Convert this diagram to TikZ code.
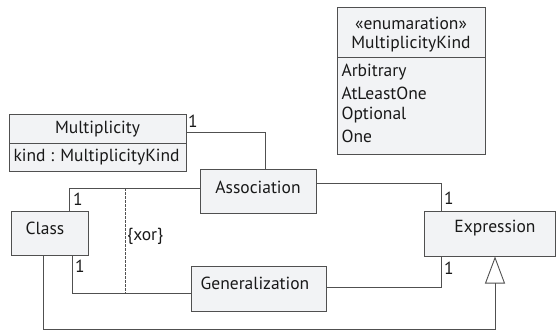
\documentclass[tikz,border=0pt]{standalone}
\usepackage{fontspec}
\setmainfont{PT Sans}
\usetikzlibrary{arrows.meta}
\definecolor{boxfill}{HTML}{F2F3F5}
\definecolor{ink}{HTML}{505050}
\begin{document}
\begin{tikzpicture}[x=1pt,y=-1pt,
  every node/.style={font=\fontsize{17.5}{21}\selectfont, text=black!90},
  umlbox/.style={draw=ink, fill=boxfill, line width=1pt, inner sep=0pt, minimum width=#1},
  conn/.style={draw=ink, line width=0.9pt},
  mult/.style={inner sep=0pt, anchor=center},
  gen/.style={conn, -{Triangle[open, length=27pt, width=20pt, line width=0.9pt]}}]
\useasboundingbox (0,0) rectangle (556,333);

% enumeration box
\draw[draw=ink, fill=boxfill, line width=1pt] (337,7) rectangle (485,154);
\draw[draw=ink, line width=1pt] (337,57) -- (485,57);
\node (enumster) at (411,23) {«enumaration»};
\node (enumname) at (411,44) {MultiplicityKind};
\node[anchor=west] (lit1) at (338,72) {Arbitrary};
\node[anchor=west] (lit2) at (338,93) {AtLeastOne};
\node[anchor=west] (lit3) at (338,115) {Optional};
\node[anchor=west] (lit4) at (338,136) {One};

% Multiplicity class
\draw[draw=ink, fill=boxfill, line width=1pt] (9,114) rectangle (186,171);
\draw[draw=ink, line width=1pt] (9,143) -- (186,143);
\node (multname) at (97.5,129) {Multiplicity};
\node[anchor=west] (multattr) at (10,157) {kind : MultiplicityKind};
\coordinate (multR) at (186,132);

% classes
\node[umlbox=116pt, minimum height=44pt] (assoc) at (258,191) {};
\node at (258,187) {Association};
\node[umlbox=77pt, minimum height=44pt] (class) at (49.5,233) {};
\node at (45,228) {Class};
\node[umlbox=135pt, minimum height=45pt] (gen) at (258.5,288.5) {};
\node at (255,283) {Generalization};
\node[umlbox=131pt, minimum height=45pt] (expr) at (490,233.5) {};
\node at (495,228) {Expression};

% associations
\draw[conn] (multR) -- (265,132) -- (265,169);
\node[mult] at (193,121) {1};
\draw[conn] (assoc.west |- 0,188) -- (69,188) -- (class.north -| 69,0);
\node[mult] at (78,199) {1};
\draw[conn] (class.south -| 72,0) -- (72,293) -- (gen.west |- 0,293);
\node[mult] at (80,266) {1};
\draw[conn] (assoc.east |- 0,183) -- (441,183) -- (expr.north -| 441,0);
\node[mult] at (449,198) {1};
\draw[conn] (gen.east |- 0,287) -- (441,287) -- (expr.south -| 441,0);
\node[mult] at (449,268) {1};

% xor constraint
\draw[draw=ink, line width=0.8pt, dash pattern=on 2.5pt off 1.5pt] (125,188) -- (125,293);
\node[anchor=west, inner sep=0pt] (xor) at (127,236) {\{xor\}};

% generalization
\draw[gen] (class.south -| 43,0) -- (43,329) -- (495,329) -- (expr.south -| 495,0);
\end{tikzpicture}
\end{document}
